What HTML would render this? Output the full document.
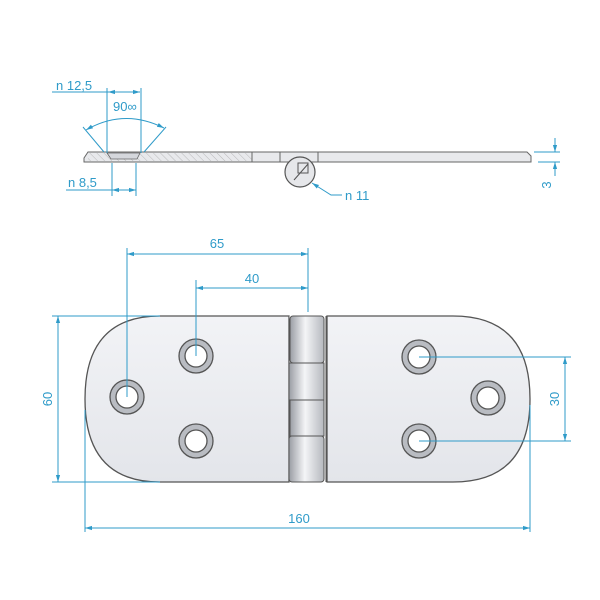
<!DOCTYPE html>
<html><head><style>body{margin:0;background:#fff}svg{display:block}text{font-family:"Liberation Sans",sans-serif;fill:#2f9bc9;font-size:13px}</style></head><body>
<svg width="600" height="600" viewBox="0 0 600 600" xmlns="http://www.w3.org/2000/svg">
<defs>
<linearGradient id="pl" x1="0" y1="0" x2="0" y2="1"><stop offset="0" stop-color="#f2f3f6"/><stop offset="1" stop-color="#e3e5ea"/></linearGradient>
<linearGradient id="kn" x1="0" y1="0" x2="1" y2="0"><stop offset="0" stop-color="#9a9da4"/><stop offset="0.45" stop-color="#f4f5f7"/><stop offset="1" stop-color="#b5b8be"/></linearGradient>
<marker id="a" viewBox="0 0 10 10" refX="10" refY="5" markerWidth="7" markerHeight="7" orient="auto-start-reverse"><path d="M0,2 L10,5 L0,8z" fill="#2f9bc9"/></marker>
<pattern id="h" width="5" height="5" patternUnits="userSpaceOnUse" patternTransform="rotate(-45)"><line x1="0" y1="0" x2="0" y2="5" stroke="#999" stroke-width="0.6"/></pattern>
</defs>
<path d="M84,158 L88,152 L527,152 L531,156 L531,162 L84,162Z" fill="#e8e9ec" stroke="#666" stroke-width="1"/>
<rect x="88" y="153" width="164" height="8" fill="url(#h)"/>
<path d="M107,153 L140,153 L137,159 L111,159Z" fill="#d5d7dc" stroke="#666" stroke-width="0.8"/>
<line x1="252" y1="152" x2="252" y2="162" stroke="#666"/>
<line x1="280" y1="152" x2="280" y2="162" stroke="#666"/>
<line x1="318" y1="152" x2="318" y2="162" stroke="#666"/>
<circle cx="300" cy="172" r="15" fill="#e6e7ea" stroke="#555" stroke-width="1.2"/>
<rect x="298" y="163" width="10" height="10" fill="none" stroke="#555"/>
<line x1="294" y1="180" x2="308" y2="164" stroke="#555"/>
<g stroke="#2f9bc9" stroke-width="1" fill="none">
<line x1="52" y1="92" x2="140" y2="92"/>
<line x1="108" y1="92" x2="140" y2="92" marker-start="url(#a)" marker-end="url(#a)"/>
<line x1="107" y1="88" x2="107" y2="153"/><line x1="141" y1="88" x2="141" y2="153"/>
<path d="M86,130 Q124,108 164,128" marker-start="url(#a)" marker-end="url(#a)"/>
<line x1="83" y1="127" x2="104" y2="152"/><line x1="166" y1="127" x2="144" y2="152"/>
<line x1="112" y1="163" x2="112" y2="196"/><line x1="136" y1="163" x2="136" y2="196"/>
<line x1="66" y1="190" x2="136" y2="190"/>
<line x1="112" y1="190" x2="136" y2="190" marker-start="url(#a)" marker-end="url(#a)"/>
<path d="M342,195 L331,195 L312,183" marker-end="url(#a)"/>
<line x1="534" y1="152" x2="560" y2="152"/><line x1="538" y1="162" x2="560" y2="162"/>
<line x1="555" y1="138" x2="555" y2="152" marker-end="url(#a)"/>
<line x1="555" y1="176" x2="555" y2="162" marker-end="url(#a)"/>
</g>
<text x="56" y="90">n 12,5</text>
<text x="113" y="111">90∞</text>
<text x="68" y="187">n 8,5</text>
<text x="345" y="200">n 11</text>
<text x="555" y="185" transform="rotate(-90 555 185)" text-anchor="middle" dy="-4">3</text>
<path d="M289,316 L160,316 Q85,316 85,399 Q85,482 160,482 L289,482Z" fill="url(#pl)" stroke="#555" stroke-width="1.3"/>
<path d="M327,316 L453,316 Q530,316 530,399 Q530,482 453,482 L327,482Z" fill="url(#pl)" stroke="#555" stroke-width="1.3"/>
<rect x="289" y="316" width="37" height="166" fill="#fff"/>
<rect x="290" y="316" width="34" height="47" rx="3" fill="url(#kn)" stroke="#555"/>
<rect x="289" y="363" width="35" height="37" fill="url(#kn)" stroke="#555"/>
<rect x="290" y="400" width="34" height="36" fill="url(#kn)" stroke="#555"/>
<rect x="289" y="436" width="35" height="46" rx="3" fill="url(#kn)" stroke="#555"/>
<line x1="289" y1="316" x2="289" y2="482" stroke="#555"/>
<line x1="326" y1="316" x2="326" y2="482" stroke="#555"/>
<g fill="#fff" stroke="#555" stroke-width="1.3">
<circle cx="127" cy="397" r="17" fill="#b9bcc2"/><circle cx="127" cy="397" r="11"/>
<circle cx="196" cy="356" r="17" fill="#b9bcc2"/><circle cx="196" cy="356" r="11"/>
<circle cx="196" cy="441" r="17" fill="#b9bcc2"/><circle cx="196" cy="441" r="11"/>
<circle cx="419" cy="357" r="17" fill="#b9bcc2"/><circle cx="419" cy="357" r="11"/>
<circle cx="488" cy="398" r="17" fill="#b9bcc2"/><circle cx="488" cy="398" r="11"/>
<circle cx="419" cy="441" r="17" fill="#b9bcc2"/><circle cx="419" cy="441" r="11"/>
</g>
<g stroke="#2f9bc9" stroke-width="1" fill="none">
<line x1="127" y1="248" x2="127" y2="397"/>
<line x1="196" y1="280" x2="196" y2="356"/>
<line x1="308" y1="248" x2="308" y2="312"/>
<line x1="127" y1="254" x2="308" y2="254" marker-start="url(#a)" marker-end="url(#a)"/>
<line x1="196" y1="288" x2="308" y2="288" marker-start="url(#a)" marker-end="url(#a)"/>
<line x1="52" y1="316" x2="160" y2="316"/><line x1="52" y1="482" x2="160" y2="482"/>
<line x1="58" y1="316" x2="58" y2="482" marker-start="url(#a)" marker-end="url(#a)"/>
<line x1="85" y1="410" x2="85" y2="532"/><line x1="530" y1="405" x2="530" y2="532"/>
<line x1="85" y1="528" x2="530" y2="528" marker-start="url(#a)" marker-end="url(#a)"/>
<line x1="419" y1="357" x2="571" y2="357"/><line x1="419" y1="441" x2="571" y2="441"/>
<line x1="565" y1="357" x2="565" y2="441" marker-start="url(#a)" marker-end="url(#a)"/>
</g>
<text x="217" y="248" text-anchor="middle">65</text>
<text x="252" y="283" text-anchor="middle">40</text>
<text x="299" y="523" text-anchor="middle">160</text>
<text x="48" y="399" transform="rotate(-90 48 399)" text-anchor="middle" dy="4">60</text>
<text x="555" y="399" transform="rotate(-90 555 399)" text-anchor="middle" dy="4">30</text>
</svg>
</body></html>
